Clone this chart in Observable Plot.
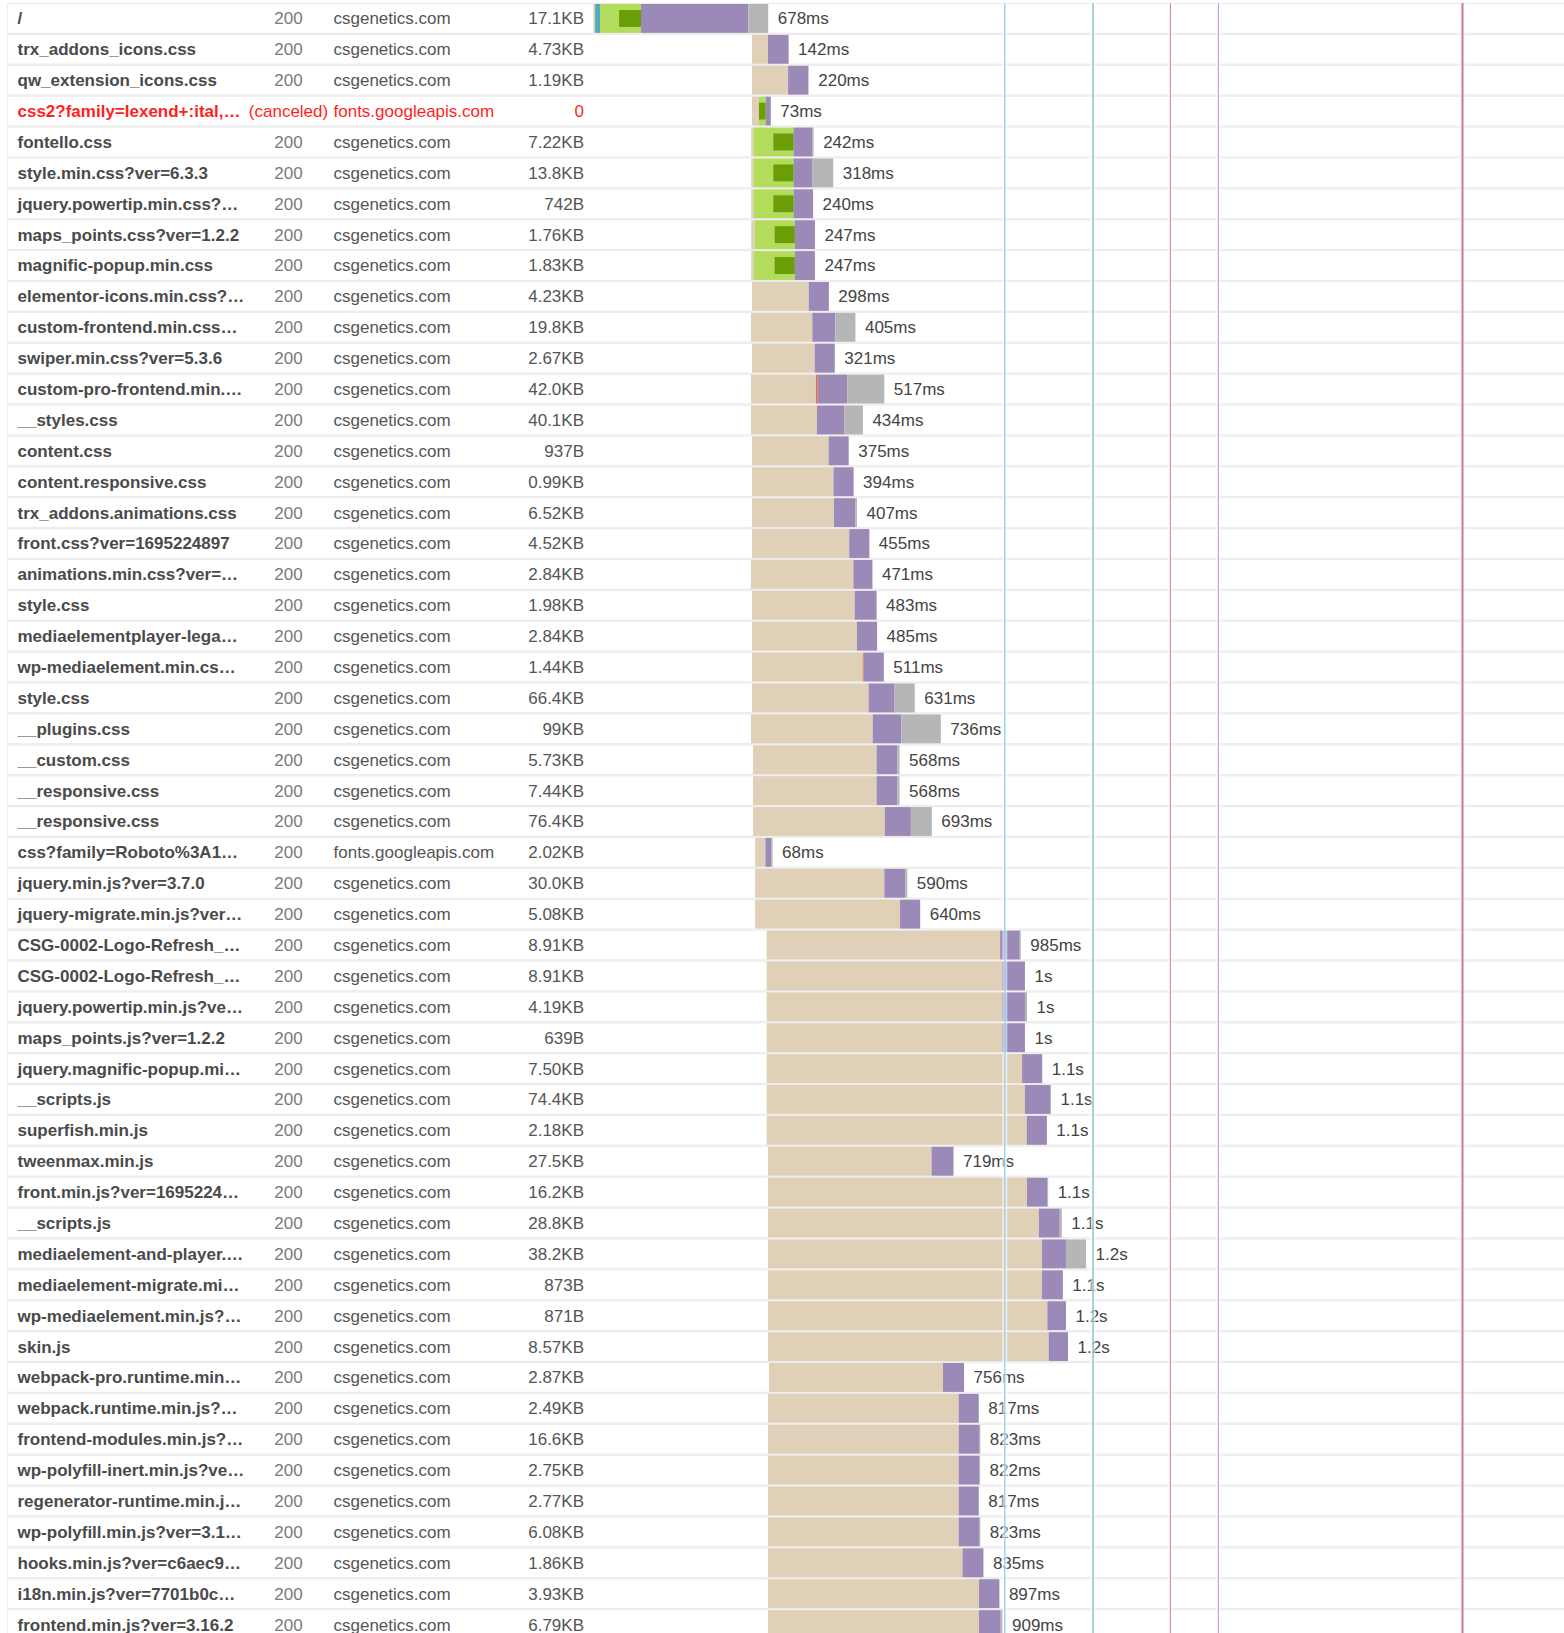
<!DOCTYPE html>
<html>
<head>
<meta charset="utf-8">
<script src="https://cdn.jsdelivr.net/npm/d3@7"></script>
<script src="https://cdn.jsdelivr.net/npm/@observablehq/plot@0.6"></script>
<style>
html, body { margin: 0; padding: 0; background: #fff; overflow: hidden; }
#chart svg { display: block; }
</style>
</head>
<body>
<div id="chart"></div>
<script>
// ---- data ----
const names = [
  "/", "trx_addons_icons.css", "qw_extension_icons.css", "css2?family=lexend+:ital,…",
  "fontello.css", "style.min.css?ver=6.3.3", "jquery.powertip.min.css?…", "maps_points.css?ver=1.2.2",
  "magnific-popup.min.css", "elementor-icons.min.css?…", "custom-frontend.min.css…", "swiper.min.css?ver=5.3.6",
  "custom-pro-frontend.min.…", "__styles.css", "content.css", "content.responsive.css",
  "trx_addons.animations.css", "front.css?ver=1695224897", "animations.min.css?ver=…", "style.css",
  "mediaelementplayer-lega…", "wp-mediaelement.min.cs…", "style.css", "__plugins.css",
  "__custom.css", "__responsive.css", "__responsive.css", "css?family=Roboto%3A1…",
  "jquery.min.js?ver=3.7.0", "jquery-migrate.min.js?ver…", "CSG-0002-Logo-Refresh_…", "CSG-0002-Logo-Refresh_…",
  "jquery.powertip.min.js?ve…", "maps_points.js?ver=1.2.2", "jquery.magnific-popup.mi…", "__scripts.js",
  "superfish.min.js", "tweenmax.min.js", "front.min.js?ver=1695224…", "__scripts.js",
  "mediaelement-and-player.…", "mediaelement-migrate.mi…", "wp-mediaelement.min.js?…", "skin.js",
  "webpack-pro.runtime.min…", "webpack.runtime.min.js?…", "frontend-modules.min.js?…", "wp-polyfill-inert.min.js?ve…",
  "regenerator-runtime.min.j…", "wp-polyfill.min.js?ver=3.1…", "hooks.min.js?ver=c6aec9…", "i18n.min.js?ver=7701b0c…",
  "frontend.min.js?ver=3.16.2"
];
const statuses = names.map((_, i) => i === 3 ? "(canceled)" : "200");
const domains = names.map((_, i) => (i === 3 || i === 27) ? "fonts.googleapis.com" : "csgenetics.com");
const sizes = [
  "17.1KB", "4.73KB", "1.19KB", "0", "7.22KB", "13.8KB", "742B", "1.76KB",
  "1.83KB", "4.23KB", "19.8KB", "2.67KB", "42.0KB", "40.1KB", "937B", "0.99KB",
  "6.52KB", "4.52KB", "2.84KB", "1.98KB", "2.84KB", "1.44KB", "66.4KB", "99KB",
  "5.73KB", "7.44KB", "76.4KB", "2.02KB", "30.0KB", "5.08KB", "8.91KB", "8.91KB",
  "4.19KB", "639B", "7.50KB", "74.4KB", "2.18KB", "27.5KB", "16.2KB", "28.8KB",
  "38.2KB", "873B", "871B", "8.57KB", "2.87KB", "2.49KB", "16.6KB", "2.75KB",
  "2.77KB", "6.08KB", "1.86KB", "3.93KB", "6.79KB"
];
const durLabels = [
  "678ms", "142ms", "220ms", "73ms", "242ms", "318ms", "240ms", "247ms",
  "247ms", "298ms", "405ms", "321ms", "517ms", "434ms", "375ms", "394ms",
  "407ms", "455ms", "471ms", "483ms", "485ms", "511ms", "631ms", "736ms",
  "568ms", "568ms", "693ms", "68ms", "590ms", "640ms", "985ms", "1s",
  "1s", "1s", "1.1s", "1.1s", "1.1s", "719ms", "1.1s", "1.1s",
  "1.2s", "1.1s", "1.2s", "1.2s", "756ms", "817ms", "823ms", "822ms",
  "817ms", "823ms", "835ms", "897ms", "909ms"
];
// timings in ms
const starts = [
  0, 615, 615, 615, 612, 612, 612, 612, 612, 615, 611, 615, 611, 611, 615, 615,
  615, 615, 611, 615, 615, 615, 615, 611, 619, 619, 619, 627, 627, 627, 672, 672,
  672, 672, 672, 672, 672, 677, 677, 677, 677, 677, 677, 677, 681, 677, 677, 677,
  677, 677, 677, 677, 677
];
const blocked = [
  7, 62, 140, 27, 9, 9, 9, 14, 10, 220, 238, 243, 252, 256, 297, 316,
  318, 377, 397, 398, 407, 429, 452, 472, 479, 479, 511, 40, 501, 562, 905, 912,
  912, 912, 990, 1001, 1008, 634, 1004, 1050, 1062, 1062, 1083, 1088, 674, 739, 739, 739,
  739, 739, 754, 818, 818
];
const dns = names.map((_, i) => i === 0 ? 19 : 0);
const connect = [
  159, 0, 0, 26, 155, 155, 155, 155, 159, 0, 0, 0, 0, 0, 0, 0,
  0, 0, 0, 0, 0, 0, 0, 0, 0, 0, 0, 0, 0, 0, 0, 0,
  0, 0, 0, 0, 0, 0, 0, 0, 0, 0, 0, 0, 0, 0, 0, 0,
  0, 0, 0, 0, 0
];
const ssl = [
  85, 0, 0, 26, 78, 78, 78, 78, 78, 0, 0, 0, 0, 0, 0, 0,
  0, 0, 0, 0, 0, 0, 0, 0, 0, 0, 0, 0, 0, 0, 0, 0,
  0, 0, 0, 0, 0, 0, 0, 0, 0, 0, 0, 0, 0, 0, 0, 0,
  0, 0, 0, 0, 0
];
const send = names.map((_, i) => i === 12 ? 7 : i === 21 ? 4 : 0);
const wait = [
  416, 80, 78, 20, 74, 74, 76, 78, 78, 78, 89, 78, 114, 105, 78, 78,
  82, 78, 74, 85, 78, 78, 101, 111, 81, 81, 101, 22, 81, 78, 76, 89,
  89, 89, 78, 97, 78, 85, 78, 81, 93, 81, 72, 75, 82, 78, 79, 79,
  78, 79, 81, 79, 84
];
const receive = [
  77, 0, 2, 0, 4, 80, 0, 0, 0, 0, 78, 0, 144, 73, 0, 0,
  7, 0, 0, 0, 0, 0, 78, 153, 8, 8, 81, 6, 8, 0, 4, 0,
  8, 0, 0, 4, 0, 0, 4, 8, 78, 0, 0, 0, 0, 0, 5, 4,
  0, 5, 0, 0, 7
];
const eventNames = ["DOMContentLoaded", "onContentLoad", "load", "render", "fully loaded"];
const eventTimes = [1593, 1935, 2235, 2421, 3367];
const eventColors = ["#86cdef", "#72b7bd", "#d48db4", "#c6a2d8", "#cc74a2"];

// ---- build tables ----
const phaseColors = {
  blocked: "#e0d0b8", dns: "#4fabc4", connect: "#b3dc5c", send: "#e2734f",
  wait: "#9b89b7", receive: "#b6b6b6", ssl: "#6a9e06"
};
const phaseArrays = {blocked, dns, connect, send, wait, receive};
const rowIdx = d3.range(names.length);
const segs = [];
const sslSegs = [];
const ends = [];
rowIdx.forEach(i => {
  let t = starts[i];
  for (const p of Object.keys(phaseArrays)) {
    const d = phaseArrays[p][i];
    if (d > 0) segs.push({i, phase: p, x1: t, x2: t + d});
    t += d;
    if (p === "connect" && ssl[i] > 0) sslSegs.push({i, x1: t - ssl[i], x2: t});
  }
  ends.push(t);
});
const events = eventTimes.map((t, k) => ({name: eventNames[k], t, color: eventColors[k]}));

const xMin = -2299.6, xMax = 3762.4;      // time domain across the full width
const rowLeft = xMin + 7 / 0.258;          // table's left border
const red = "#ff1f1f";
const font = "'Liberation Sans', Arial, Helvetica, sans-serif";

const chart = Plot.plot({
  width: 1564,
  height: 1640,
  marginTop: 3, marginBottom: 0, marginLeft: 0, marginRight: 0,
  x: {domain: [xMin, xMax], axis: null},
  y: {type: "band", domain: rowIdx, padding: 0, axis: null},
  color: {type: "identity"},
  style: {fontFamily: font, background: "white"},
  marks: [
    Plot.barX(rowIdx, {y: i => i, x1: rowLeft, x2: xMax, fill: "#ececec"}),
    Plot.barX(rowIdx, {y: i => i, x1: rowLeft, x2: xMax, fill: "white", insetTop: 1.2, insetBottom: 1.2, insetLeft: 1}),
    Plot.barX(segs, {y: "i", x1: "x1", x2: "x2", fill: d => phaseColors[d.phase], insetTop: 1, insetBottom: 1}),
    Plot.barX(sslSegs, {y: "i", x1: "x1", x2: "x2", fill: phaseColors.ssl, insetTop: 7, insetBottom: 7}),
    Plot.text(rowIdx, {y: i => i, text: i => names[i], frameAnchor: "left", dx: 17, textAnchor: "start",
      fontWeight: "bold", fontSize: 17, fill: i => i === 3 ? red : "#4a4a4a"}),
    Plot.text(rowIdx, {y: i => i, text: i => statuses[i], frameAnchor: "left", dx: 288, textAnchor: "middle",
      fontSize: 17, fill: i => i === 3 ? red : "#7a7a7a"}),
    Plot.text(rowIdx, {y: i => i, text: i => domains[i], frameAnchor: "left", dx: 333, textAnchor: "start",
      fontSize: 17, fill: i => i === 3 ? red : "#555555"}),
    Plot.text(rowIdx, {y: i => i, text: i => sizes[i], frameAnchor: "left", dx: 583.5, textAnchor: "end",
      fontSize: 17, fill: i => i === 3 ? red : "#555555"}),
    Plot.text(rowIdx, {y: i => i, x: i => ends[i], text: i => durLabels[i], dx: 9, textAnchor: "start",
      fontSize: 17, fill: "#444444"}),
    Plot.ruleX(events, {x: "t", stroke: "white", strokeWidth: 5, strokeOpacity: 0.55}),
    Plot.ruleX(events, {x: "t", stroke: "color", strokeWidth: (d, k) => k === 4 ? 2 : 1.2})
  ]
});
document.getElementById("chart").appendChild(chart);
</script>
</body>
</html>
